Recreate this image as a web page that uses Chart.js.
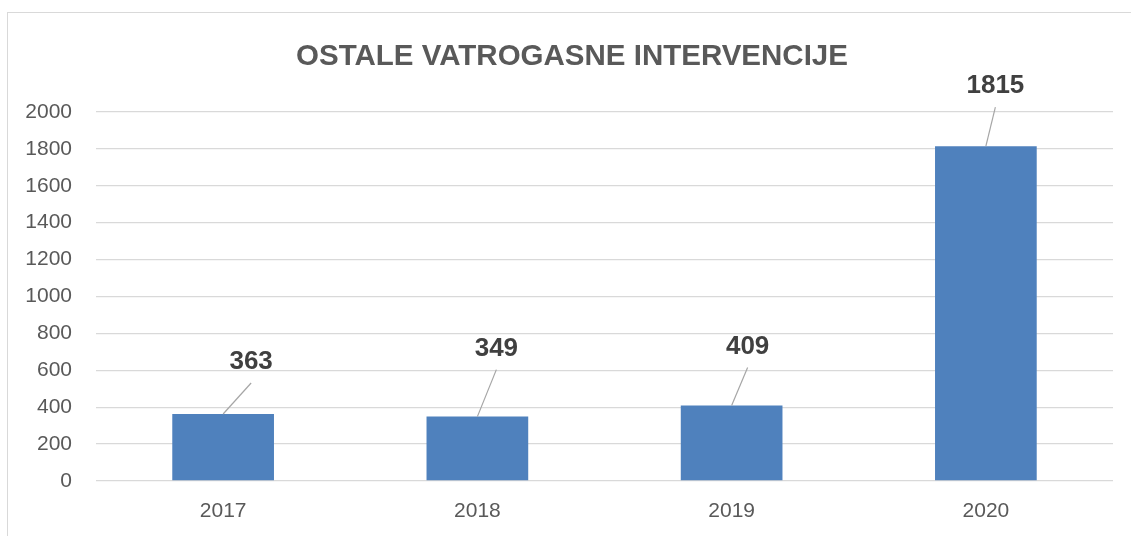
<!DOCTYPE html>
<html>
<head>
<meta charset="utf-8">
<script src="https://cdn.jsdelivr.net/npm/chart.js@4"></script>
<style>
  html, body { margin: 0; padding: 0; background: #ffffff; }
  #wrap { position: relative; width: 1131px; height: 536px; }
</style>
</head>
<body>
<div id="wrap"><canvas id="c" width="1131" height="536"></canvas></div>
<script>
const chartTitle = 'OSTALE VATROGASNE INTERVENCIJE';
const categories = ['2017', '2018', '2019', '2020'];
const values = [363, 349, 409, 1815];
const yMin = 0;
const yMax = 2000;
const yStep = 200;

const FONT = "'Liberation Sans', Arial, sans-serif";

// Manual label placement (offset from top-centre of each bar), like the original
const labelOffsets = [[28, -52], [19, -68], [16, -59], [9.5, -60]];

const frame = {
  id: 'frame',
  beforeDraw(chart) {
    const ctx = chart.ctx;
    ctx.save();
    ctx.fillStyle = '#ffffff';
    ctx.fillRect(0, 0, chart.width, chart.height);
    ctx.strokeStyle = '#d9d9d9';
    ctx.lineWidth = 1;
    ctx.strokeRect(7.5, 12.5, 1300, 700);
    ctx.restore();
  }
};

const titleDraw = {
  id: 'titleDraw',
  afterDraw(chart) {
    const ctx = chart.ctx;
    ctx.save();
    ctx.fillStyle = '#595959';
    ctx.font = 'bold 29.5px ' + FONT;
    ctx.textAlign = 'center';
    ctx.textBaseline = 'middle';
    ctx.fillText(chartTitle, 572, 57);
    ctx.restore();
  }
};

const leaderLabels = {
  id: 'leaderLabels',
  afterDatasetsDraw(chart) {
    const ctx = chart.ctx;
    const meta = chart.getDatasetMeta(0);
    ctx.save();
    meta.data.forEach((bar, i) => {
      const off = labelOffsets[i];
      const lx = bar.x + off[0];
      const ly = bar.y + off[1];
      ctx.strokeStyle = '#a6a6a6';
      ctx.lineWidth = 1.2;
      ctx.beginPath();
      ctx.moveTo(bar.x, bar.y);
      ctx.lineTo(lx, ly + 21);
      ctx.stroke();
      ctx.fillStyle = '#404040';
      ctx.font = 'bold 26px ' + FONT;
      ctx.textAlign = 'center';
      ctx.textBaseline = 'middle';
      ctx.fillText(String(values[i]), lx, ly);
    });
    ctx.restore();
  }
};

new Chart(document.getElementById('c'), {
  type: 'bar',
  data: {
    labels: categories,
    datasets: [{
      data: values,
      backgroundColor: '#4f81bd',
      borderWidth: 0,
      barPercentage: 0.4,
      categoryPercentage: 1.0
    }]
  },
  options: {
    responsive: false,
    animation: false,
    layout: { padding: { left: 0, right: 18, top: 112, bottom: 0 } },
    plugins: {
      legend: { display: false },
      tooltip: { enabled: false },
      title: { display: false }
    },
    scales: {
      x: {
        grid: { display: false, drawTicks: false },
        border: { display: false },
        ticks: { color: '#595959', font: { family: FONT, size: 21 }, padding: 18 },
        afterFit(scale) { scale.height = 55; }
      },
      y: {
        min: yMin,
        max: yMax,
        ticks: {
          stepSize: yStep, color: '#595959', font: { family: FONT, size: 21 }, padding: 24,
          callback: (v) => String(v)
        },
        grid: { color: '#d9d9d9', lineWidth: 1.3, drawTicks: false },
        border: { display: false },
        afterFit(scale) { scale.width = 96; }
      }
    }
  },
  plugins: [frame, leaderLabels, titleDraw]
});
</script>
</body>
</html>
